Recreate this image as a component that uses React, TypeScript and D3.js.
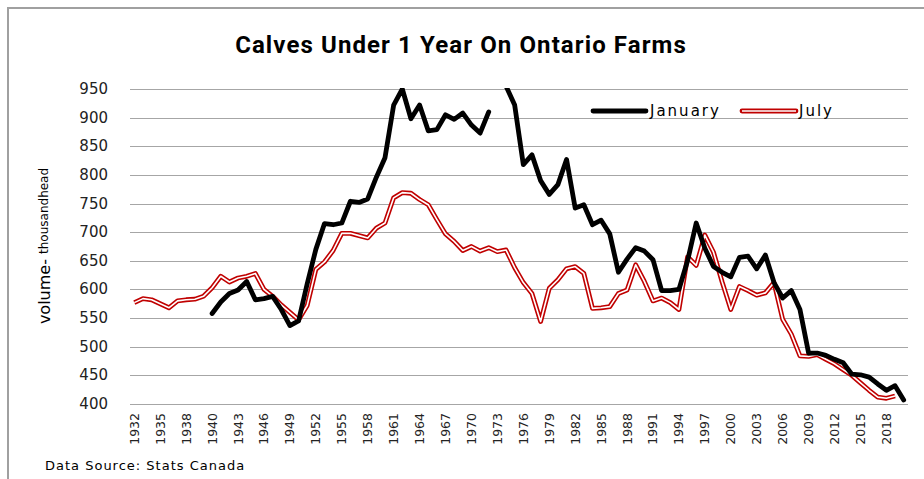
import * as d3 from "d3";

// category labels (one extra 1939 row in the source sheet)
const years = [
  "1932", "1933", "1934", "1935", "1936", "1937", "1938", "1939", "1939",
  ...d3.range(1940, 2021).map(String),
];

// July, thousand head (last year not yet reported)
const july = [
  577, 584, 582, 575, 568, 580, 582, 583, 588,
  603, 623, 613, 620, 623, 628, 600, 588, 573, 560,
  547, 572, 635, 648, 668, 698, 698, 694, 690, 707,
  716, 760, 769, 768, 757, 748, 722, 697, 684, 668,
  675, 667, 673, 666, 669, 638, 612, 593, 544, 602,
  617, 636, 640, 628, 567, 568, 570, 593, 599, 643,
  614, 580, 585, 577, 565, 657, 642, 695, 665, 613,
  565, 605, 598, 590, 594, 612, 548, 522, 484, 483,
  486, 478, 470, 460, 450, 437, 424, 412, 410, 414,
  null,
];

// January, thousand head (starts 1940, 1973 missing)
const january = [
  null, null, null, null, null, null, null, null, null,
  558, 578, 593, 599, 614, 582, 584, 588, 565, 537,
  545, 610, 670, 715, 713, 716, 754, 752, 758, 796,
  830, 922, 950, 898, 922, 877, 879, 905, 897, 908,
  887, 873, 910, null, 955, 922, 818, 835, 790, 766,
  783, 827, 742, 748, 713, 721, 697, 630, 653, 673,
  667, 652, 598, 598, 600, 650, 716, 672, 640, 630,
  622, 656, 658, 636, 660, 612, 585, 598, 565, 489,
  489, 485, 478, 472, 452, 451, 447, 435, 424, 432,
  407,
];

const yTicks = [400, 450, 500, 550, 600, 650, 700, 750, 800, 850, 900, 950];

export default function App() {
  const width = 924;
  const height = 479;
  const left = 130;
  const right = 908;
  const top = 89;
  const bottom = 404;

  const x = d3.scalePoint<number>()
    .domain(d3.range(years.length))
    .range([left, right])
    .padding(0.5);

  const y = d3.scaleLinear()
    .domain([400, 950])
    .range([bottom, top]);

  const line = d3.line<number | null>()
    .defined(d => d != null)
    .x((d, i) => x(i) as number)
    .y(d => y(d as number));

  const font = "'DejaVu Sans', Verdana, sans-serif";

  return (
    <svg width={width} height={height} style={{ position: "absolute", left: 0, top: 0, background: "#fff" }}>
      <rect x={8} y={8} width={width + 20} height={height + 20} fill="#fff" stroke="#a0a0a0" strokeWidth={2} />

      <text x={461} y={53} textAnchor="middle" fontFamily="Roboto, 'Liberation Sans', sans-serif"
        fontWeight="bold" fontSize={24} letterSpacing={1.1} fill="#000">
        Calves Under 1 Year On Ontario Farms
      </text>

      <defs>
        <clipPath id="plot">
          <rect x={left} y={top - 1} width={right - left + 4} height={bottom - top + 6} />
        </clipPath>
      </defs>

      {yTicks.map(v => (
        <g key={v}>
          <line x1={left} x2={right} y1={Math.round(y(v)) + 0.5} y2={Math.round(y(v)) + 0.5}
            stroke="#a6a6a6" strokeWidth={1} />
          <text x={108} y={y(v)} textAnchor="end" dominantBaseline="central"
            fontFamily={font} fontSize={15} fill="#222">{v}</text>
        </g>
      ))}

      {years.map((yr, i) => i % 3 === 0 ? (
        <text key={i} transform={`translate(${x(i)},${bottom + 9}) rotate(-90)`}
          textAnchor="end" dominantBaseline="central" fontFamily={font} fontSize={12.5} fill="#222">
          {yr}
        </text>
      ) : null)}

      <text transform="translate(44,246) rotate(-90)" textAnchor="middle" dominantBaseline="central"
        fontFamily={font} fill="#000">
        <tspan fontSize={16}>volume- </tspan>
        <tspan fontSize={12}>thousandhead</tspan>
      </text>

      <g clipPath="url(#plot)" fill="none" strokeLinejoin="round">
        <path d={line(july) ?? ""} stroke="#c00000" strokeWidth={4.8} />
        <path d={line(july) ?? ""} stroke="#fff" strokeWidth={1.6} />
        <path d={line(january) ?? ""} stroke="#000" strokeWidth={4.8} strokeLinecap="round" />
      </g>

      <line x1={593} x2={646} y1={111} y2={111} stroke="#000" strokeWidth={4.8} strokeLinecap="round" />
      <text x={650} y={111} dominantBaseline="central" fontFamily={font} fontSize={15}
        letterSpacing={2} fill="#000">January</text>
      <line x1={742} x2={796} y1={111} y2={111} stroke="#c00000" strokeWidth={4.8} strokeLinecap="round" />
      <line x1={742} x2={796} y1={111} y2={111} stroke="#fff" strokeWidth={1.6} />
      <text x={799} y={111} dominantBaseline="central" fontFamily={font} fontSize={15}
        letterSpacing={2} fill="#000">July</text>

      <text x={45} y={470} fontFamily={font} fontSize={13} letterSpacing={1} fill="#000">
        Data Source: Stats Canada
      </text>
    </svg>
  );
}
